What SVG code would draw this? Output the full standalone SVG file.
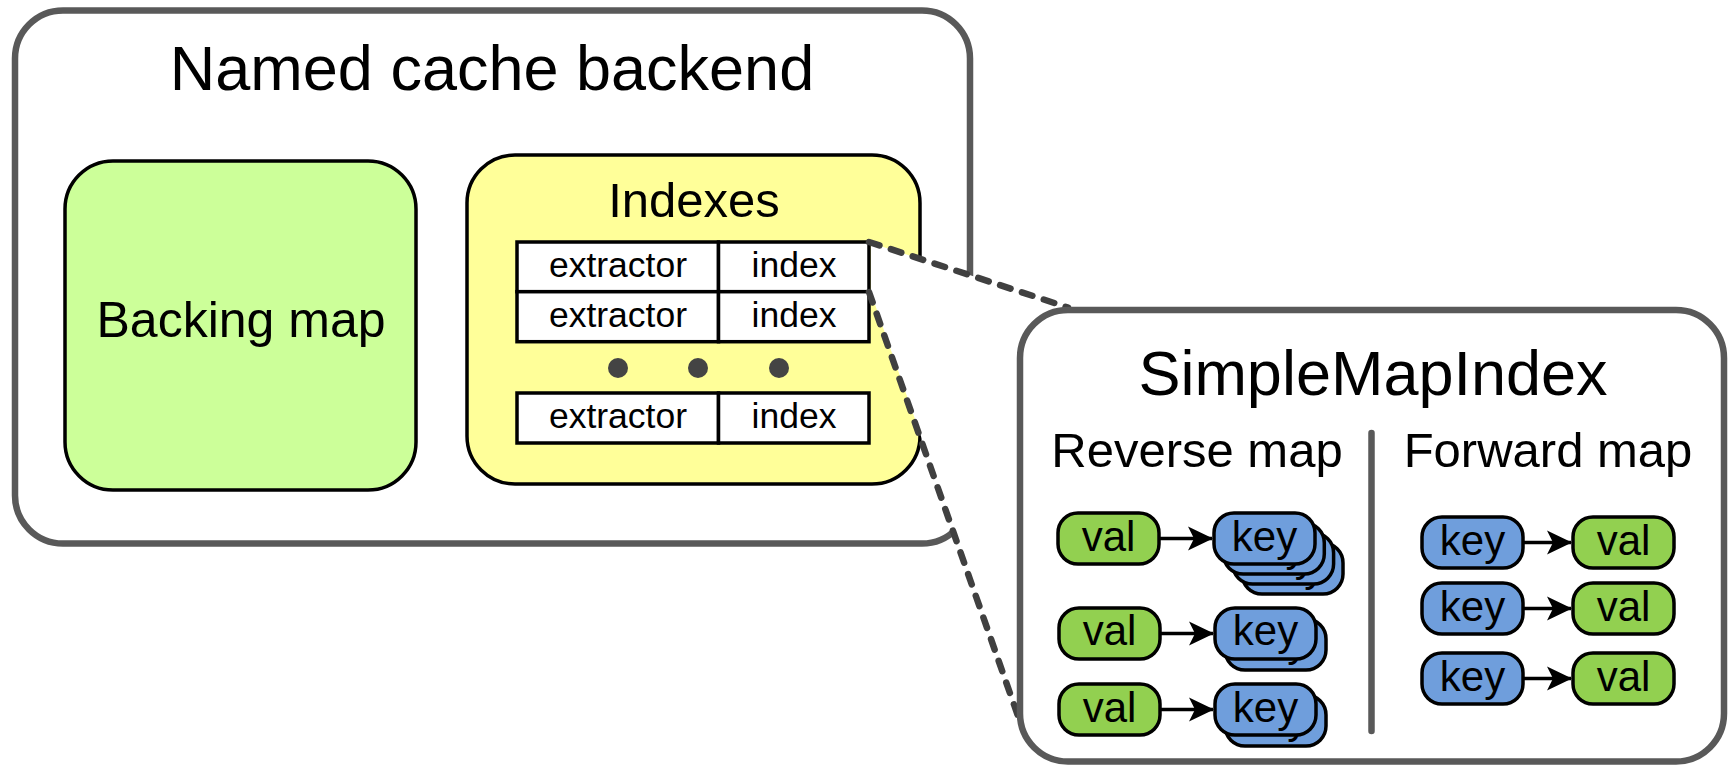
<svg xmlns="http://www.w3.org/2000/svg" width="1733" height="766" viewBox="0 0 1733 766">
  <style>
    text { font-family: "Liberation Sans", Arial, sans-serif; fill: #000; text-anchor: middle; }
    .frame { fill: #fff; stroke: #595959; stroke-width: 6.5; }
    .panel { stroke: #000; stroke-width: 3.5; }
    .cell { fill: #fff; stroke: #000; stroke-width: 3.5; }
    .dot { fill: #444; }
    .zoom { fill: none; stroke: #404040; stroke-width: 6.5; stroke-linecap: round; stroke-dasharray: 11 12; }
    .val { fill: #92d050; stroke: #000; stroke-width: 3.5; }
    .key { fill: #6f9edc; stroke: #000; stroke-width: 3.5; }
    .arrow { stroke: #000; stroke-width: 3.5; fill: none; marker-end: url(#head); }
    .t63 { font-size: 63px; }
    .t49 { font-size: 49px; }
    .t35 { font-size: 35.5px; }
    .t42 { font-size: 42px; }
  </style>
  <defs>
    <marker id="head" viewBox="0 0 25 25" refX="24" refY="12.5" markerWidth="25" markerHeight="25" markerUnits="userSpaceOnUse" orient="auto">
      <path d="M0,0.5 L25,12.5 L0,24.5 L6,12.5 Z" fill="#000"/>
    </marker>
    <rect id="pill" width="101" height="51" rx="20"/>
  </defs>

  <!-- Named cache backend container -->
  <g id="backend">
    <rect class="frame" x="15" y="10.5" width="955" height="533" rx="48"/>
    <text class="t63" x="492" y="90">Named cache backend</text>
  </g>

  <!-- Backing map -->
  <g id="backing-map">
    <rect class="panel" x="65" y="161" width="351" height="329" rx="48" fill="#ccff99"/>
    <text x="241" y="337" style="font-size:50px">Backing map</text>
  </g>

  <!-- Indexes with extractor/index table -->
  <g id="indexes">
    <rect class="panel" x="467" y="155" width="453" height="329" rx="48" fill="#ffff99"/>
    <text class="t49" x="694" y="217">Indexes</text>
    <rect class="cell" x="517" y="242" width="201.5" height="49.7"/>
    <rect class="cell" x="718.5" y="242" width="150.5" height="49.7"/>
    <rect class="cell" x="517" y="291.7" width="201.5" height="50"/>
    <rect class="cell" x="718.5" y="291.7" width="150.5" height="50"/>
    <rect class="cell" x="517" y="393" width="201.5" height="50"/>
    <rect class="cell" x="718.5" y="393" width="150.5" height="50"/>
    <text class="t35" x="618" y="277">extractor</text>
    <text class="t35" x="794" y="277">index</text>
    <text class="t35" x="618" y="327">extractor</text>
    <text class="t35" x="794" y="327">index</text>
    <text class="t35" x="618" y="428">extractor</text>
    <text class="t35" x="794" y="428">index</text>
    <circle class="dot" cx="618" cy="368" r="10"/>
    <circle class="dot" cx="698" cy="368" r="10"/>
    <circle class="dot" cx="779" cy="368" r="10"/>
  </g>

  <!-- Magnifier wedge from the index row to the detail panel -->
  <g id="connectors">
    <polygon points="871,243 1070,307.5 1021,330 1019,717 871,293" fill="#fff"/>
    <path class="zoom" d="M869,242 L1068,307.5"/>
    <path class="zoom" d="M869,292 L1018,716"/>
  </g>

  <!-- SimpleMapIndex detail -->
  <g id="simple-map-index">
    <rect class="frame" x="1020" y="310" width="704" height="451.5" rx="48"/>
    <text class="t63" x="1373" y="395">SimpleMapIndex</text>
    <text class="t49" x="1197" y="466.5">Reverse map</text>
    <text class="t49" x="1548" y="466.5">Forward map</text>
    <line x1="1371.5" y1="433" x2="1371.5" y2="731" stroke="#595959" stroke-width="6.5" stroke-linecap="round"/>
  </g>

  <!-- Reverse map entries: val -> set of keys -->
  <g id="reverse-map">
    <g id="rev-1">
      <use href="#pill" class="val" x="1058" y="513"/>
      <text class="t42" x="1108.5" y="550.5">val</text>
      <line class="arrow" x1="1160" y1="538.5" x2="1212" y2="538.5"/>
      <use href="#pill" class="key" x="1242" y="543"/>
      <text class="t42" x="1292.5" y="580.5">key</text>
      <use href="#pill" class="key" x="1232.6" y="533"/>
      <text class="t42" x="1283.1" y="570.5">key</text>
      <use href="#pill" class="key" x="1223.3" y="523"/>
      <text class="t42" x="1273.8" y="560.5">key</text>
      <use href="#pill" class="key" x="1214" y="513"/>
      <text class="t42" x="1264.5" y="550.5">key</text>
    </g>
    <g id="rev-2">
      <use href="#pill" class="val" x="1059" y="608"/>
      <text class="t42" x="1109.5" y="645">val</text>
      <line class="arrow" x1="1160" y1="633.5" x2="1213" y2="633.5"/>
      <use href="#pill" class="key" x="1225" y="619"/>
      <text class="t42" x="1275.5" y="656">key</text>
      <use href="#pill" class="key" x="1215" y="608"/>
      <text class="t42" x="1265.5" y="645">key</text>
    </g>
    <g id="rev-3">
      <use href="#pill" class="val" x="1059" y="684"/>
      <text class="t42" x="1109.5" y="721.5">val</text>
      <line class="arrow" x1="1160" y1="709.5" x2="1213" y2="709.5"/>
      <use href="#pill" class="key" x="1225" y="695"/>
      <text class="t42" x="1275.5" y="732.5">key</text>
      <use href="#pill" class="key" x="1215" y="684"/>
      <text class="t42" x="1265.5" y="721.5">key</text>
    </g>
  </g>

  <!-- Forward map entries: key -> val -->
  <g id="forward-map">
    <g id="fwd-1">
      <use href="#pill" class="key" x="1422" y="517"/>
      <text class="t42" x="1472.5" y="555">key</text>
      <line class="arrow" x1="1523" y1="542.5" x2="1571" y2="542.5"/>
      <use href="#pill" class="val" x="1573" y="517"/>
      <text class="t42" x="1623.5" y="555">val</text>
    </g>
    <g id="fwd-2">
      <use href="#pill" class="key" x="1422" y="583"/>
      <text class="t42" x="1472.5" y="621">key</text>
      <line class="arrow" x1="1523" y1="608.5" x2="1571" y2="608.5"/>
      <use href="#pill" class="val" x="1573" y="583"/>
      <text class="t42" x="1623.5" y="621">val</text>
    </g>
    <g id="fwd-3">
      <use href="#pill" class="key" x="1422" y="653"/>
      <text class="t42" x="1472.5" y="691">key</text>
      <line class="arrow" x1="1523" y1="678.5" x2="1571" y2="678.5"/>
      <use href="#pill" class="val" x="1573" y="653"/>
      <text class="t42" x="1623.5" y="691">val</text>
    </g>
  </g>
</svg>
